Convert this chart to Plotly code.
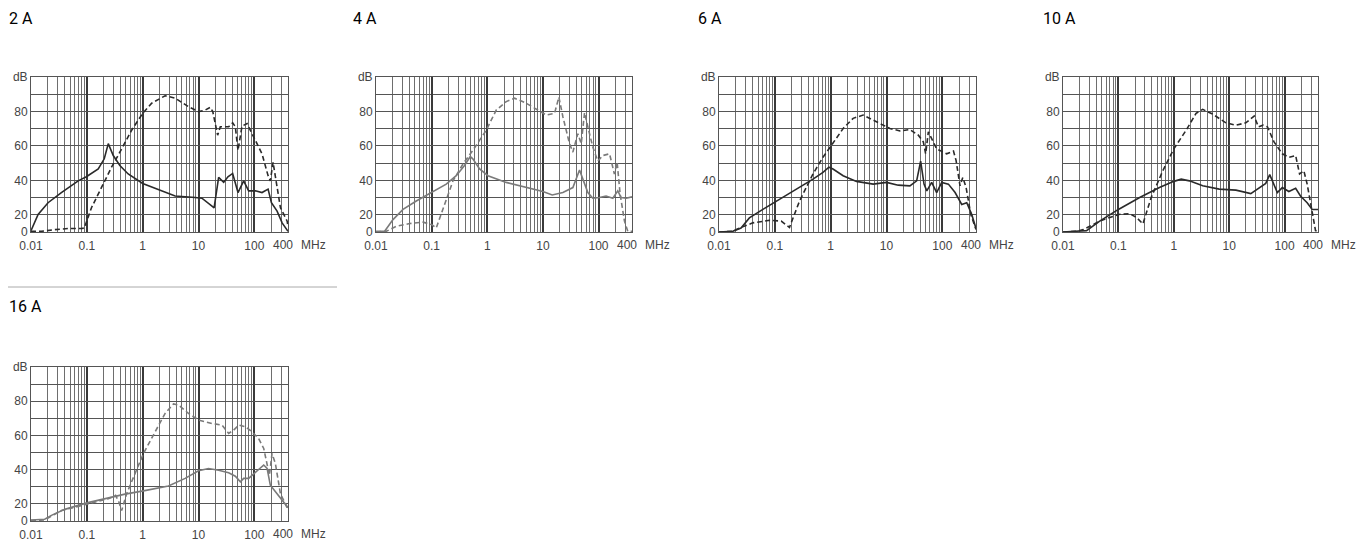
import plotly.graph_objects as go

# ---------------- data (frequency in MHz, level in dB; bottom grid line = 10, labelled "0") -------------
f_2A_solid = [0.01, 0.0134, 0.0202, 0.035, 0.07, 0.098, 0.16, 0.205, 0.242, 0.297, 0.39, 0.55, 1.0, 2.19, 3.81,
              8.7, 11.5, 17.4, 19, 22.9, 28.2, 33.6, 40.8, 50.9, 64.3, 79, 104, 137, 176, 202, 255, 314, 400]
db_2A_solid = [10.8, 20.2, 27, 32.9, 39.7, 42.1, 46.6, 52.5, 61.3, 54.4, 48.6, 43.7, 38.2, 33.9, 30.9,
               30, 29.6, 25, 24, 41.7, 38.8, 42.1, 44, 32.9, 39.7, 33.9, 33.9, 32.9, 34.9, 27, 22.1, 15.3, 10.4]
f_2A_dash = [0.01, 0.0153, 0.0266, 0.046, 0.08, 0.09, 0.121, 0.183, 0.277, 0.42, 0.634, 1.0, 1.45, 2.52, 3.81,
             6.6, 10, 13.2, 16.2, 18, 20.7, 22, 24.5, 34.6, 40.8, 45.6, 50.9, 60, 73.8, 81.3, 104, 137, 176,
             193, 216, 238, 293, 386, 400]
db_2A_dash = [10.4, 10.4, 11.4, 12, 12, 12.3, 24.1, 35.8, 47.6, 58.3, 69.1, 78.9, 84.8, 89.1, 87.7,
              82.8, 79.9, 80.8, 82.4, 79.9, 70.1, 66.2, 71.1, 71.1, 73.4, 71.1, 57.4, 71.4, 73, 70.1, 63.2, 55.4, 42.7,
              39.7, 50.5, 41.7, 24.1, 16.3, 13.3]

f_4A_solid = [0.01, 0.0143, 0.0202, 0.0306, 0.053, 0.1, 0.183, 0.277, 0.39, 0.495, 0.55, 0.728, 1.03, 2.19, 5.0,
              10, 14.7, 22.9, 34.6, 40.8, 45.6, 53.8, 64.3, 79, 104, 137, 181, 222, 255, 314, 400]
db_4A_solid = [10.4, 10.4, 17.2, 23.1, 28, 32.9, 37.8, 42.7, 48.6, 53.8, 52.5, 46.6, 42.7, 38.8, 35.8,
               33.5, 31.5, 32.9, 35.8, 41.7, 46, 39.7, 32.9, 29.6, 30, 30.9, 29.6, 33.9, 30, 29.6, 30.4]
f_4A_dash = [0.01, 0.0153, 0.0232, 0.0403, 0.07, 0.1, 0.121, 0.171, 0.242, 0.366, 0.55, 0.96, 1.45, 2.19, 3.1,
             5.0, 8.7, 11.5, 16.2, 19.4, 22.9, 30.1, 34.6, 42.5, 48.9, 56.1, 64.3, 79, 97.3, 119, 158, 193, 216,
             245, 293, 336, 400]
db_4A_dash = [10, 10.4, 13.3, 14.9, 15.7, 14.3, 12.3, 26, 39.7, 49.5, 57.4, 69.1, 80.8, 85.7, 87.7,
              84.8, 79.9, 77.9, 78.9, 88.3, 76.9, 61.3, 56.4, 67.1, 61.3, 79.3, 71.1, 59.3, 51.1, 54.4, 55.4, 43.7, 50.5,
              31.9, 16.3, 10.4, 10.4]

f_6A_solid = [0.01, 0.0176, 0.0248, 0.035, 0.061, 0.139, 0.277, 0.482, 0.728, 0.93, 1.1, 1.67, 2.89, 5.76, 10,
              16.2, 26.2, 34.6, 40.8, 46.9, 52.6, 64.3, 79, 97.3, 128, 169, 222, 273, 336, 400]
db_6A_solid = [10, 10.4, 12.3, 18.2, 23.1, 30, 35.8, 40.7, 44.6, 47.6, 46.6, 42.7, 39.4, 37.8, 38.8,
               37.2, 36.8, 39.7, 51.1, 37.8, 33.9, 38.8, 32.9, 38.8, 37.8, 32.9, 26, 27, 20.2, 12]
f_6A_dash = [0.01, 0.0176, 0.0248, 0.0403, 0.08, 0.13, 0.183, 0.277, 0.482, 0.728, 1.03, 1.67, 2.52, 3.81, 6.6,
             11.5, 17.4, 26.2, 37.1, 45.6, 50.2, 56.1, 64.3, 79, 119, 158, 176, 207, 232, 266, 323, 400]
db_6A_dash = [10, 10.4, 12.7, 15.3, 16.8, 16.3, 12.7, 28, 43.7, 53.4, 60.3, 70.1, 76, 77.9, 74,
              70.1, 68.7, 69.5, 66.2, 62.3, 55.4, 68.1, 64.2, 58.3, 55.4, 57, 51.5, 36.8, 41.7, 35.8, 20.2, 11.4]

f_10A_solid = [0.01, 0.0202, 0.0266, 0.046, 0.1, 0.242, 0.55, 1.0, 1.36, 1.91, 3.32, 6.6, 13.2, 24.5, 34.6,
               45.6, 53.8, 64.3, 73.8, 90.8, 119, 158, 193, 255, 314, 400]
db_10A_solid = [10, 10.4, 10.8, 16.3, 23.1, 30, 35.8, 39.4, 40.7, 39.7, 36.8, 34.9, 34.3, 32.3, 35.8,
                38.2, 43.3, 37.8, 32.9, 35.8, 33.5, 35.4, 30.9, 27, 23.1, 23.1]
f_10A_dash = [0.01, 0.0176, 0.0232, 0.046, 0.1, 0.16, 0.21, 0.277, 0.39, 0.634, 1.0, 1.67, 2.52, 3.32, 5.0,
              8.7, 13.2, 19.9, 28.2, 33.6, 40.8, 48.9, 64.3, 90.8, 119, 158, 186, 222, 255, 314, 361, 400]
db_10A_dash = [10, 10.4, 11.4, 16.3, 20.2, 20.6, 18.6, 14.7, 30, 45.6, 58.3, 69.1, 78.9, 81.2, 78.5,
               73.4, 72, 73.4, 77.3, 71.1, 72, 71.1, 62.3, 55.4, 53.4, 54.4, 43.7, 45.6, 37.8, 20.2, 10.8, 10.4]

f_16A_solid = [0.01, 0.0176, 0.0232, 0.0403, 0.1, 0.21, 0.482, 1.03, 2.89, 5.76, 10, 15.1, 22.9, 34.6, 45.6,
               56.1, 64.3, 79, 90.8, 119, 147, 169, 193, 238, 314, 400]
db_16A_solid = [10.6, 11, 13.3, 16.8, 20.6, 23.1, 25.7, 27.6, 30.4, 34.9, 39.4, 40.7, 39.7, 38.2, 36.2,
                32.9, 34.9, 34.9, 36.8, 40.1, 42.7, 40.7, 30.9, 27, 22.1, 17.8]
f_16A_dash = [0.01, 0.0176, 0.035, 0.1, 0.242, 0.327, 0.376, 0.42, 0.517, 0.728, 1.03, 1.67, 2.52, 3.56, 4.4,
              6.6, 10, 17.4, 26.2, 34.6, 42.5, 52.6, 68.9, 90.8, 119, 147, 169, 186, 207, 238, 293, 361, 400]
db_16A_dash = [10.2, 10.6, 16.1, 20, 23, 25, 21, 16.1, 26, 37.7, 49.4, 62.1, 72.9, 78.4, 77.8,
               72.9, 69, 67, 66.1, 61.2, 63.1, 66.1, 65.1, 62.1, 58.2, 52.4, 43.5, 36.7, 49.4, 43.5, 25.9, 20, 16.1]

titles = ["2 A", "4 A", "6 A", "10 A", "16 A"]
x_tick_vals = [0.01, 0.1, 1, 10, 100, 400]
x_tick_text = ["0.01", "0.1", "1", "10", "100", ""]   # "400" is written next to the unit label below
x_end_label = "400"
x_unit = "MHz"
y_tick_vals = [10, 20, 40, 60, 80, 100]
y_tick_text = ["0", "20", "40", "60", "80", "dB"]

series = [
    (f_2A_solid, db_2A_solid, f_2A_dash, db_2A_dash),
    (f_4A_solid, db_4A_solid, f_4A_dash, db_4A_dash),
    (f_6A_solid, db_6A_solid, f_6A_dash, db_6A_dash),
    (f_10A_solid, db_10A_solid, f_10A_dash, db_10A_dash),
    (f_16A_solid, db_16A_solid, f_16A_dash, db_16A_dash),
]

# ---------------- layout (pixel boxes in page coordinates) -------------
OX, OY = 8, 8            # page body margin
FW, FH = 1352, 534       # figure size


def px(x):
    return (x - OX) / FW


def py(y):
    return 1 - (y - OY) / FH


# (left, right, top, bottom) of plot area, title x, title y, line colour
panels = [
    (31, 288, 77, 232, 7, 18, "#2a2a2a"),
    (376, 632, 77, 232, 351, 18, "#7a7a7a"),
    (719, 976, 77, 232, 696, 18, "#2a2a2a"),
    (1063, 1318, 77, 232, 1041, 18, "#2a2a2a"),
    (31, 288, 367, 521, 7, 306, "#7a7a7a"),
]

minor_x = [m * 10 ** e for e in (-2, -1, 0, 1) for m in range(2, 10)] + [200, 300]
tick_font = dict(family="Liberation Sans, Arial, sans-serif", size=12, color="#444")

fig = go.Figure()
annotations = []
for i, ((fs, ds, fd, dd), (l, r, t, b, tx, ty, col)) in enumerate(zip(series, panels)):
    n = "" if i == 0 else str(i + 1)
    xa, ya = "x" + n, "y" + n
    fig.add_trace(go.Scatter(x=fs, y=ds, mode="lines", xaxis=xa, yaxis=ya,
                             line=dict(color=col, width=1.6), showlegend=False, hoverinfo="skip"))
    fig.add_trace(go.Scatter(x=fd, y=dd, mode="lines", xaxis=xa, yaxis=ya,
                             line=dict(color=col, width=1.6, dash="5px,3px"), showlegend=False, hoverinfo="skip"))
    fig.layout["xaxis" + n] = dict(
        type="log", range=[-2, 2.60206], domain=[px(l), px(r)], anchor=ya, automargin=False,
        tickvals=x_tick_vals, ticktext=x_tick_text, ticks="", ticklabelstandoff=3,
        showgrid=True, gridcolor="#3a3a3a", gridwidth=1.6,
        minor=dict(tickvals=minor_x, showgrid=True, gridcolor="#6e6e6e", gridwidth=1, ticks=""),
        showline=True, mirror=True, linecolor="#555", linewidth=1,
        zeroline=False, fixedrange=True, tickfont=tick_font,
    )
    fig.layout["yaxis" + n] = dict(
        range=[10, 100], domain=[py(b), py(t)], anchor=xa, automargin=False,
        tickvals=y_tick_vals, ticktext=y_tick_text, ticks="",
        showgrid=True, gridcolor="#555", gridwidth=1.2,
        minor=dict(tickvals=[30, 50, 70, 90], showgrid=True, gridcolor="#555", gridwidth=1.2, ticks=""),
        showline=True, mirror=True, linecolor="#555", linewidth=1,
        zeroline=False, fixedrange=True, tickfont=tick_font,
    )
    annotations.append(dict(text=titles[i], x=px(tx), y=py(ty), xref="paper", yref="paper",
                            xanchor="left", yanchor="middle", showarrow=False,
                            font=dict(family="Roboto, Liberation Sans Narrow, sans-serif",
                                      size=16, color="#000")))
    annotations.append(dict(text=x_end_label, x=1, y=0, xref=xa + " domain", yref=ya + " domain",
                            xanchor="center", yanchor="middle", xshift=-5, yshift=-13, showarrow=False,
                            font=tick_font))
    annotations.append(dict(text=x_unit, x=1, y=0, xref=xa + " domain", yref=ya + " domain",
                            xanchor="left", yanchor="middle", xshift=11, yshift=-13, showarrow=False,
                            font=tick_font))

fig.update_layout(
    width=FW, height=FH, margin=dict(l=0, r=0, t=0, b=0, autoexpand=False),
    paper_bgcolor="white", plot_bgcolor="white",
    annotations=annotations,
    shapes=[dict(type="line", xref="paper", yref="paper", x0=px(8), x1=px(337),
                 y0=py(287), y1=py(287), line=dict(color="#aaaaaa", width=1))],
)

fig.write_html("out.html")
